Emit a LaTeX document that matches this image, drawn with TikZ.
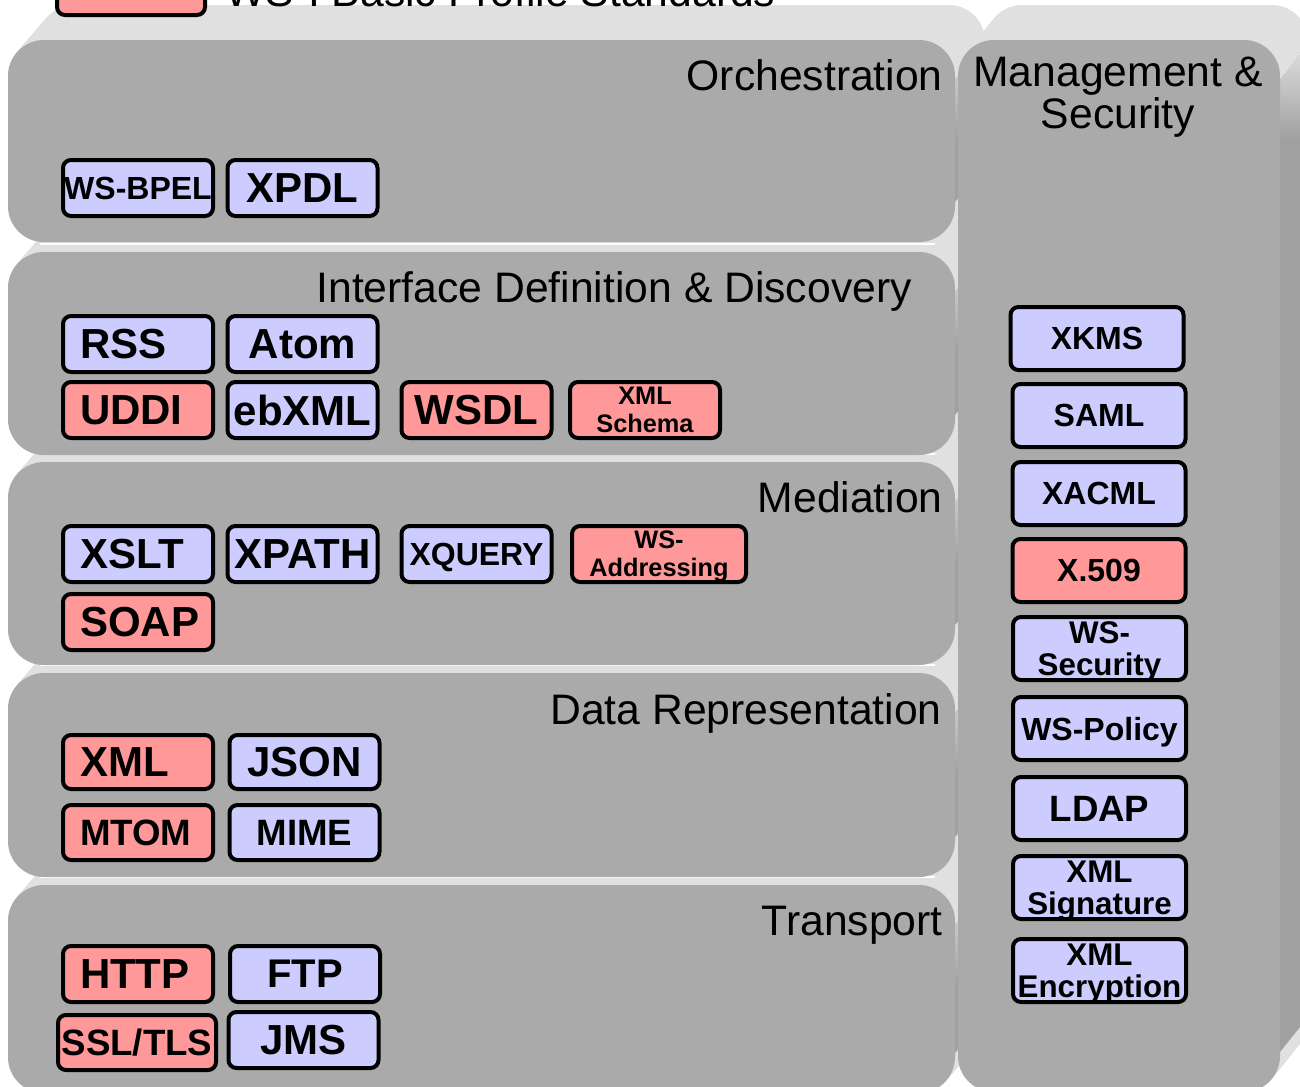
\documentclass[tikz,border=0pt]{standalone}
\usepackage{fontspec}
\setmainfont{Liberation Sans}

\definecolor{facegray}{HTML}{AAAAAA}
\definecolor{topgray}{HTML}{E0E0E0}
\definecolor{sidegray}{HTML}{A0A0A0}
\definecolor{stdpink}{HTML}{FF9999}
\definecolor{stdblue}{HTML}{CCCCFF}

% chip label sizes (1px = 0.75pt)
\newcommand\chipXL{\fontsize{31.5pt}{34pt}\selectfont\bfseries}
\newcommand\chipL{\fontsize{27.5pt}{30pt}\selectfont\bfseries}
\newcommand\chipM{\fontsize{24pt}{27pt}\selectfont\bfseries}
\newcommand\chipTwo{\fontsize{23.5pt}{24pt}\selectfont\bfseries}
\newcommand\chipS{\fontsize{19pt}{21pt}\selectfont\bfseries}

% extruded body of a slab: swept outline, right side, in px coordinates
\newcommand\slabbody[4]{%
  \foreach \k in {0,...,25}{%
    \fill[topgray, rounded corners=27pt]
      ({#1+\k/25*\sdx},{#2+\k/25*\sdy}) rectangle ({#3+\k/25*\sdx},{#4+\k/25*\sdy});
  }
  \fill[sidegray] (#3,{#2+40}) -- ({#3+\sdx},{#2+40+\sdy})
    -- ({#3+\sdx},{#4-40+\sdy}) -- (#3,{#4-40}) -- cycle;
  \shade[top color=topgray, bottom color=sidegray] (#3,{#2+40}) -- ({#3+\sdx},{#2+40+\sdy})
    -- ({#3+\sdx},{#2+100}) -- (#3,{#2+100}) -- cycle;
}
\newcommand\slabfront[4]{\fill[facegray, rounded corners=27pt] (#1,#2) rectangle (#3,#4);}

\tikzset{
  chip/.style={draw=black, line width=3pt, rounded corners=6pt, inner sep=0pt,
    text depth=0pt, align=center},
  pinkchip/.style={chip, fill=stdpink},
  bluechip/.style={chip, fill=stdblue},
  chipsize/.style={minimum width=112.5pt, minimum height=42pt},
  mgmtsize/.style={minimum width=129.75pt, minimum height=47.25pt},
  lowtext/.style={text depth=-4.5pt},
  lefttext/.style={text width=87pt, align=left, inner xsep=12.75pt},
  layertitle/.style={anchor=base east, inner sep=0pt, font=\fontsize{32pt}{36pt}\selectfont},
}

\begin{document}
\begin{tikzpicture}[x=0.75pt, y=-0.75pt]
\useasboundingbox (0,0) rectangle (1300,1086);
\clip (0,0) rectangle (1300,1086);

% column on the right: swept body
\def\sdx{28}\def\sdy{-35}
\slabbody{958}{40}{1280}{1092}

% horizontal layers: swept bodies
\def\sdx{30}\def\sdy{-35}
\slabbody{8}{885}{955}{1093}
\slabbody{8}{673}{955}{877}
\slabbody{8}{462}{955}{665}
\slabbody{8}{252}{955}{455}
\slabbody{8}{40}{955}{242}

% highlights along the top edges
\foreach \t in {252,462,673,885}{
  \fill[white] (40,{\t-9}) rectangle (935,{\t-7});
}

% front faces
\slabfront{8}{40}{955}{242}
\slabfront{8}{252}{955}{455}
\slabfront{8}{462}{955}{665}
\slabfront{8}{673}{955}{877}
\slabfront{8}{885}{955}{1093}
\slabfront{958}{40}{1280}{1092}

% legend
\node[pinkchip, minimum width=111pt, minimum height=43.5pt] (legend) at (131,-14) {};
\node[anchor=base west, inner sep=0pt, font=\fontsize{32pt}{36pt}\selectfont] (legendtext) at (225,6) {WS-I Basic Profile Standards};

% layer titles
\node[layertitle] (orch) at (943,90) {Orchestration};
\node[layertitle] (idd) at (912,302) {Interface Definition \& Discovery};
\node[layertitle] (med) at (943,512) {Mediation};
\node[layertitle] (datarep) at (942,724) {Data Representation};
\node[layertitle] (trans) at (943,935) {Transport};
\node[anchor=north, align=center, inner sep=0pt, font=\fontsize{32pt}{31.5pt}\selectfont] (mgmt) at (1118,57) {Management \&\\Security};

% orchestration
\node[bluechip, chipsize, font=\chipM] (wsbpel) at (138,188) {WS-BPEL};
\node[bluechip, chipsize, font=\chipXL] (xpdl) at (302.5,188) {XPDL};

% interface definition and discovery
\node[bluechip, chipsize, lefttext, font=\chipXL] (rss) at (138,344) {RSS};
\node[bluechip, chipsize, font=\chipXL] (atom) at (302.5,344) {Atom};
\node[pinkchip, chipsize, lefttext, font=\chipXL] (uddi) at (138,410) {UDDI};
\node[bluechip, chipsize, font=\chipXL] (ebxml) at (302.5,410) {ebXML};
\node[pinkchip, chipsize, font=\chipXL] (wsdl) at (476.5,410) {WSDL};
\node[pinkchip, chipsize, font=\chipS] (xsd) at (645,410) {XML\\Schema};

% mediation
\node[bluechip, chipsize, lefttext, font=\chipXL] (xslt) at (138,554) {XSLT};
\node[bluechip, chipsize, font=\chipXL] (xpath) at (302.5,554) {XPATH};
\node[bluechip, chipsize, font=\chipM] (xquery) at (476.5,554) {XQUERY};
\node[pinkchip, minimum width=130.5pt, minimum height=42pt, font=\chipS] (wsaddr) at (659,554) {WS-\\Addressing};
\node[pinkchip, chipsize, lefttext, font=\chipXL] (soap) at (138,622) {SOAP};

% data representation
\node[pinkchip, chipsize, lefttext, minimum height=40.5pt, font=\chipXL] (xml) at (138,762) {XML};
\node[bluechip, chipsize, minimum height=40.5pt, font=\chipXL] (json) at (304.5,762) {JSON};
\node[pinkchip, chipsize, lefttext, minimum height=41.25pt, font=\chipL] (mtom) at (138,832.5) {MTOM};
\node[bluechip, chipsize, minimum height=41.25pt, font=\chipL] (mime) at (304.5,832.5) {MIME};

% transport
\node[pinkchip, chipsize, lefttext, font=\chipXL] (http) at (138,974) {HTTP};
\node[bluechip, chipsize, font=\fontsize{30pt}{33pt}\selectfont\bfseries] (ftp) at (305,974) {FTP};
\node[pinkchip, minimum width=118.5pt, minimum height=41.25pt, font=\chipL] (ssltls) at (137,1042.5) {SSL/TLS};
\node[bluechip, chipsize, font=\chipXL] (jms) at (303.5,1040) {JMS};

% management and security
\node[bluechip, mgmtsize, font=\chipM] (xkms) at (1097,338.5) {XKMS};
\node[bluechip, mgmtsize, font=\chipM] (saml) at (1099,415.5) {SAML};
\node[bluechip, mgmtsize, font=\chipM] (xacml) at (1099,493.5) {XACML};
\node[pinkchip, mgmtsize, font=\chipM] (x509) at (1099,570.5) {X.509};
\node[bluechip, mgmtsize, lowtext, font=\chipTwo] (wssec) at (1099.5,648.5) {WS-\\Security};
\node[bluechip, mgmtsize, font=\chipM] (wspolicy) at (1099.5,728.5) {WS-Policy};
\node[bluechip, mgmtsize, font=\chipL] (ldap) at (1099.5,808.5) {LDAP};
\node[bluechip, mgmtsize, lowtext, font=\chipTwo] (xmlsig) at (1099.5,887.5) {XML\\Signature};
\node[bluechip, mgmtsize, lowtext, font=\chipTwo] (xmlenc) at (1099.5,970.5) {XML\\Encryption};
\end{tikzpicture}
\end{document}
